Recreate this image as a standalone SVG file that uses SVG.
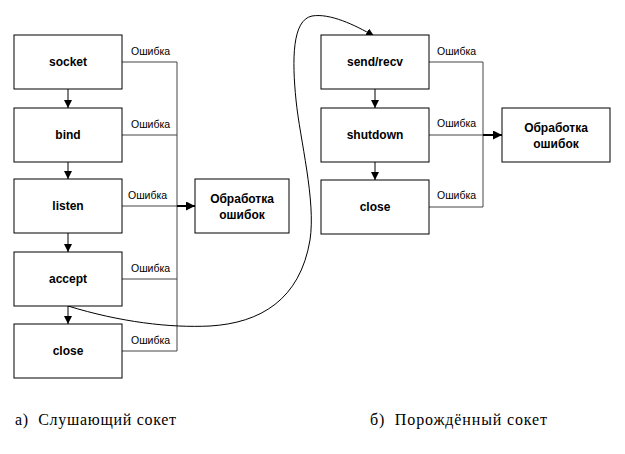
<svg xmlns="http://www.w3.org/2000/svg" width="625" height="454" viewBox="0 0 625 454">
<style>
.box{fill:#fff;stroke:#000;stroke-width:1}
.lbl{font-family:"Liberation Sans",Arial,sans-serif;font-size:12px;font-weight:bold;text-anchor:middle;fill:#000}
.err{font-family:"Liberation Sans",Arial,sans-serif;font-size:10.5px;fill:#000}
.cap{font-family:"Liberation Serif","Times New Roman",serif;font-size:16px;fill:#000}
.ln{fill:none;stroke:#444;stroke-width:1}
.dn{fill:none;stroke:#000;stroke-width:1;marker-end:url(#ah)}
.thick{fill:none;stroke:#000;stroke-width:2;marker-end:url(#ah2)}
</style>
<defs>
<marker id="ah" viewBox="0 0 10 10" refX="10" refY="5" markerWidth="8" markerHeight="8" markerUnits="userSpaceOnUse" orient="auto"><path d="M0,0 L10,5 L0,10 z" fill="#000"/></marker>
<marker id="ah2" viewBox="0 0 10 10" refX="10" refY="5" markerWidth="9" markerHeight="9" markerUnits="userSpaceOnUse" orient="auto"><path d="M0,0 L10,5 L0,10 z" fill="#000"/></marker>
</defs>
<rect width="625" height="454" fill="#fff"/>
<g id="connectors">
<path class="dn" d="M68,89 V108"/>
<path class="dn" d="M68,162 V179"/>
<path class="dn" d="M68,233 V252"/>
<path class="dn" d="M68,306 V324"/>
<path class="ln" d="M122,62 H177 V351 H122"/>
<path class="ln" d="M122,135 H177"/>
<path class="ln" d="M122,279 H177"/>
<path class="ln" d="M122,206 H177"/>
<path class="thick" d="M177,206 H195"/>
<path class="dn" d="M375,89 V108"/>
<path class="dn" d="M375,162 V180"/>
<path class="ln" d="M429,62 H483 V207 H429"/>
<path class="ln" d="M429,135 H483"/>
<path class="thick" d="M483,135 H502"/>
<path class="dn" d="M68,306 C120,322 170,328 210,326 C260,323 300,300 310,240 C316,200 300,140 296,100 C292,60 292,20 312,16 C330,13 355,25 374,36"/>
<text class="err" x="131" y="55">Ошибка</text>
<text class="err" x="131" y="128">Ошибка</text>
<text class="err" x="128" y="199">Ошибка</text>
<text class="err" x="131" y="272">Ошибка</text>
<text class="err" x="131" y="344">Ошибка</text>
<text class="err" x="437" y="55">Ошибка</text>
<text class="err" x="437" y="127">Ошибка</text>
<text class="err" x="437" y="199">Ошибка</text>
</g>
<g id="socket"><rect class="box" x="14" y="35" width="108" height="54"/><text class="lbl" x="68" y="66">socket</text></g>
<g id="bind"><rect class="box" x="14" y="108" width="108" height="54"/><text class="lbl" x="68" y="139">bind</text></g>
<g id="listen"><rect class="box" x="14" y="179" width="108" height="54"/><text class="lbl" x="68" y="210">listen</text></g>
<g id="accept"><rect class="box" x="14" y="252" width="108" height="54"/><text class="lbl" x="68" y="283">accept</text></g>
<g id="close1"><rect class="box" x="14" y="324" width="108" height="54"/><text class="lbl" x="68" y="355">close</text></g>
<g id="errors1"><rect class="box" x="195" y="179" width="94" height="54"/><text class="lbl" x="242" y="203">Обработка</text><text class="lbl" x="242" y="219">ошибок</text></g>
<g id="sendrecv"><rect class="box" x="321" y="35" width="108" height="54"/><text class="lbl" x="375" y="66">send/recv</text></g>
<g id="shutdown"><rect class="box" x="321" y="108" width="108" height="54"/><text class="lbl" x="375" y="139">shutdown</text></g>
<g id="close2"><rect class="box" x="321" y="180" width="108" height="54"/><text class="lbl" x="375" y="211">close</text></g>
<g id="errors2"><rect class="box" x="502" y="108" width="108" height="54"/><text class="lbl" x="556" y="132">Обработка</text><text class="lbl" x="556" y="148">ошибок</text></g>
<text class="cap" x="15" y="425" xml:space="preserve" textLength="161" lengthAdjust="spacing">а)  Слушающий сокет</text>
<text class="cap" x="370" y="425" xml:space="preserve" textLength="177" lengthAdjust="spacing">б)  Порождённый сокет</text>
</svg>
